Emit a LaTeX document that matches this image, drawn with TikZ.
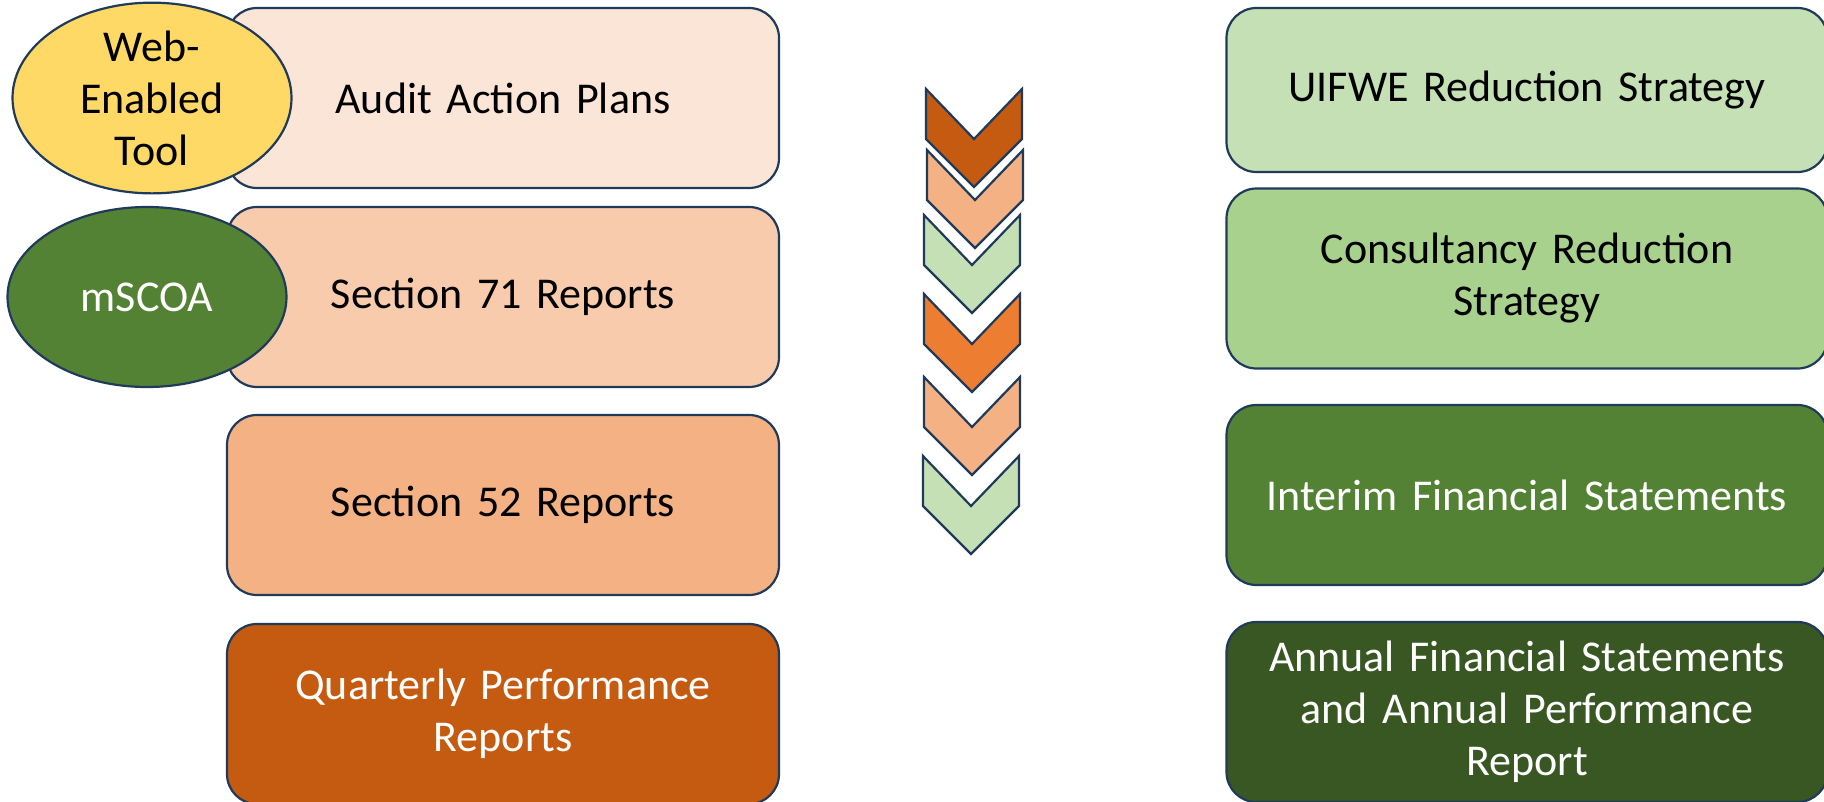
\documentclass[tikz,border=0pt]{standalone}
\usepackage{fontspec}
\setmainfont{Carlito}
\definecolor{outl}{HTML}{203A5A}
\definecolor{peach1}{HTML}{FBE5D6}
\definecolor{peach2}{HTML}{F8CBAD}
\definecolor{peach3}{HTML}{F4B183}
\definecolor{rust}{HTML}{C55A11}
\definecolor{orng}{HTML}{ED7D31}
\definecolor{green1}{HTML}{C5E0B4}
\definecolor{green2}{HTML}{A9D18E}
\definecolor{green3}{HTML}{548235}
\definecolor{green4}{HTML}{385723}
\definecolor{yell}{HTML}{FFD966}
\tikzset{
  card/.style={draw=outl, line width=2.2pt, rounded corners=30pt, rectangle,
    minimum height=180pt, align=center, inner sep=0pt,
    font=\fontsize{44}{52}\selectfont},
  leftcard/.style={card, minimum width=552pt, text width=520pt},
  rightcard/.style={card, minimum width=601pt, text width=580pt},
  badge/.style={draw=outl, line width=2.2pt, ellipse, minimum width=279pt,
    minimum height=180pt, inner sep=0pt, align=center,
    font=\fontsize{44}{52}\selectfont},
  chev/.pic={\path[pic actions] (-48,0) -- (0,50) -- (48,0) -- (48,50) -- (0,98) -- (-48,50) -- cycle;},
  chevstyle/.style={draw=outl, line width=2.2pt}
}
\usetikzlibrary{shapes.geometric}
\begin{document}
\begin{tikzpicture}[x=1pt,y=-1pt]
\useasboundingbox (0,0) rectangle (1824,801);
% left column
\node[leftcard, fill=peach1] (aap) at (503,98) {Audit Action Plans};
\node[leftcard, fill=peach2] (s71) at (503,297) {Section 71 Reports};
\node[leftcard, fill=peach3] (s52) at (503,505) {Section 52 Reports};
\node[leftcard, fill=rust, text=white] (qpr) at (503,714) {Quarterly Performance\\Reports};
% badges
\node[badge, fill=yell] (web) at (152,98) {Web-\\Enabled\\Tool};
\node[badge, fill=green3, text=white] (mscoa) at (147,297) {mSCOA};
% right column
\node[rightcard, fill=green1, minimum height=164pt] (uif) at (1527,90) {UIFWE Reduction Strategy};
\node[rightcard, fill=green2] (cons) at (1527,278.5) {Consultancy Reduction\\Strategy};
\node[rightcard, fill=green3, text=white] (ifs) at (1527,495) {Interim Financial Statements};
\node[rightcard, fill=green4, text=white] (afs) at (1527,712) {Annual Financial Statements\\and Annual Performance\\Report};
% chevrons
\pic[chevstyle, fill=rust] at (974,89) {chev};
\pic[chevstyle, fill=peach3] at (975,150) {chev};
\pic[chevstyle, fill=green1] at (972,215) {chev};
\pic[chevstyle, fill=orng] at (972,294) {chev};
\pic[chevstyle, fill=peach3] at (972,377) {chev};
\pic[chevstyle, fill=green1] at (971,456) {chev};
\end{tikzpicture}
\end{document}
